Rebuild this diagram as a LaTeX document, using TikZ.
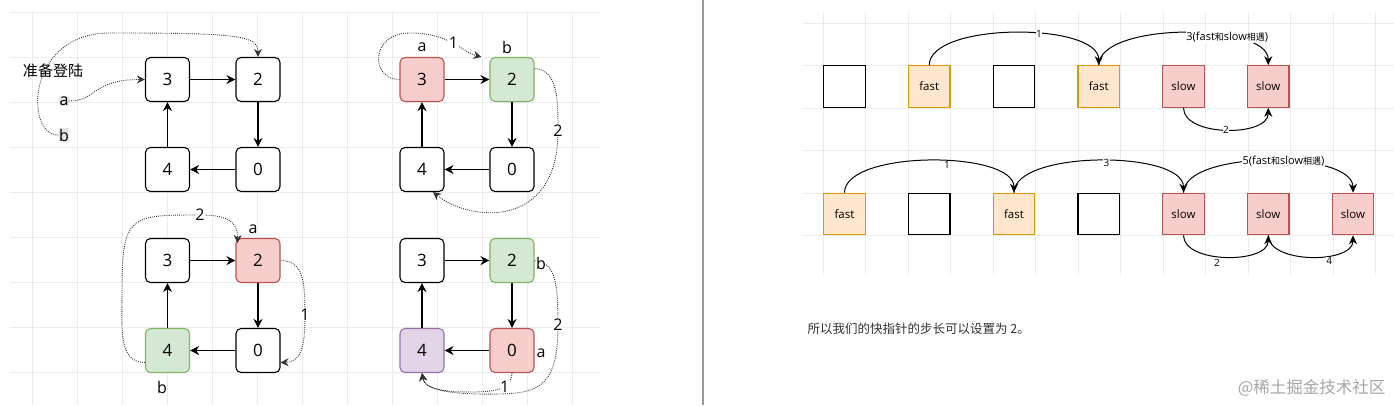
\documentclass[tikz,border=0pt]{standalone}
\usepackage{fontspec}
\setmainfont{Open Sans}
\newfontfamily\cjk{Noto Sans CJK SC}
\usetikzlibrary{arrows.meta}
\definecolor{redfill}{HTML}{F8CECC}
\definecolor{redline}{HTML}{B85450}
\definecolor{greenfill}{HTML}{D5E8D4}
\definecolor{greenline}{HTML}{82B366}
\definecolor{purplefill}{HTML}{E1D5E7}
\definecolor{purpleline}{HTML}{9673A6}
\definecolor{orangefill}{HTML}{FFE6CC}
\definecolor{orangeline}{HTML}{D79B00}
\definecolor{gridc}{HTML}{ECECEC}
\definecolor{textc}{HTML}{333333}
\newcommand{\cjksmall}[1]{{\cjk\fontsize{9}{9}\selectfont #1}}
\begin{document}
\begin{tikzpicture}[x=1pt,y=-1pt,
 nbox/.style={draw=black, line width=1.1pt, rounded corners=5pt, minimum size=44pt, inner sep=0pt, fill=white, font=\fontsize{17}{17}\selectfont},
 redbox/.style={nbox, draw=redline, fill=redfill},
 greenbox/.style={nbox, draw=greenline, fill=greenfill},
 purplebox/.style={nbox, draw=purpleline, fill=purplefill},
 sbox/.style={draw=black, line width=1.1pt, minimum size=41.5pt, inner sep=0pt, fill=white, font=\fontsize{11.5}{11.5}\selectfont},
 fastbox/.style={sbox, draw=orangeline, fill=orangefill},
 slowbox/.style={sbox, draw=redline, fill=redfill},
 lbl/.style={font=\fontsize{16}{16}\selectfont, inner sep=0.5pt, text=black},
 dlbl/.style={lbl, fill=white},
 sarrow/.style={-{Stealth[length=9pt,width=9pt]}, line width=1.1pt, black},
 arc/.style={-{Stealth[length=9pt,width=8pt]}, line width=1pt, black},
 dotarc/.style={-{Stealth[length=8pt,width=8pt]}, line width=0.9pt, black!80, dash pattern=on 0.9pt off 1.2pt},
 slbl/.style={font=\fontsize{10}{10}\selectfont, fill=white, inner sep=0.5pt, text=black},
 mlbl/.style={font=\fontsize{11}{11}\selectfont, fill=white, inner sep=0.5pt, text=black},
 gridline/.style={draw=gridc, line width=0.6pt}
]
\useasboundingbox (0,0) rectangle (1394,405);
\fill[white] (0,0) rectangle (1394,405);
% left grid
\foreach \y in {12,57,102,147,192,237,282,327,372} \draw[gridline] (10,\y) -- (600,\y);
\foreach \x in {32,77,122,167,212,257,302,347,392,437,482,527,572} \draw[gridline] (\x,12) -- (\x,405);
% right grid
\foreach \y in {23,65.5,108,150.5,193,235.5} \draw[gridline] (803,\y) -- (1394,\y);
\foreach \x in {823,865.5,908,950.5,993,1035.5,1078,1120.5,1163,1205.5,1248,1290.5,1333,1375.5} \draw[gridline] (\x,12) -- (\x,275);
% divider
\draw[black!40, line width=1.2pt] (703,0) -- (703,405);

% ---------- panel 1 ----------
\node[nbox] (p1b3) at (167.5,79.5) {3};
\node[nbox] (p1b2) at (258,79.5) {2};
\node[nbox] (p1b4) at (167.5,169.5) {4};
\node[nbox] (p1b0) at (258,169.5) {0};
\draw[sarrow] (p1b3) -- (p1b2);
\draw[sarrow] (p1b2) -- (p1b0);
\draw[sarrow] (p1b0) -- (p1b4);
\draw[sarrow] (p1b4) -- (p1b3);
\node[font=\cjk\fontsize{15}{15}\selectfont] (p1t) at (53,71) {准备登陆};
\node[lbl, fill=black!10] (p1a) at (64,101) {a};
\node[lbl, fill=black!10] (p1b) at (64,135) {b};
\draw[dotarc] (p1a.east) .. controls (97,101) and (92,79.5) .. (p1b3.west);
\draw[dotarc] (p1b.west) .. controls (25,136) and (25,33) .. (110,33) .. controls (235,33) and (258,35) .. (p1b2.north);

% ---------- panel 2 ----------
\node[redbox] (p2b3) at (422,79.5) {3};
\node[greenbox] (p2b2) at (512,79.5) {2};
\node[nbox] (p2b4) at (422,169.5) {4};
\node[nbox] (p2b0) at (512,169.5) {0};
\draw[sarrow] (p2b3) -- (p2b2);
\draw[sarrow] (p2b2) -- (p2b0);
\draw[sarrow] (p2b0) -- (p2b4);
\draw[sarrow] (p2b4) -- (p2b3);
\node[lbl] (p2a) at (422,47) {a};
\node[lbl] (p2b) at (507,47) {b};
\coordinate (p2e1) at ([xshift=-8pt]p2b2.north west);
\coordinate (p2s2) at ([yshift=11pt]p2b2.east);
\coordinate (p2e2) at ([xshift=11pt]p2b4.south);
\draw[dotarc] (p2b3.west) .. controls (370,79.5) and (370,33) .. (410,33) .. controls (450,33) and (462,52) .. (p2e1) node[pos=0.5, dlbl] {1};
\draw[dotarc] (p2s2) .. controls (558,70) and (558,100) .. (558,131) node[dlbl] {2} .. controls (558,230) and (470,222) .. (p2e2);

% ---------- panel 3 ----------
\node[nbox] (p3b3) at (167.5,260.5) {3};
\node[redbox] (p3b2) at (258,260.5) {2};
\node[greenbox] (p3b4) at (167.5,350.5) {4};
\node[nbox] (p3b0) at (258,350.5) {0};
\draw[sarrow] (p3b3) -- (p3b2);
\draw[sarrow] (p3b2) -- (p3b0);
\draw[sarrow] (p3b0) -- (p3b4);
\draw[sarrow] (p3b4) -- (p3b3);
\node[lbl] (p3a) at (253,229) {a};
\node[lbl] (p3b) at (162,387) {b};
\coordinate (p3s1) at ([yshift=-12pt]p3b4.west);
\coordinate (p3e1) at ([xshift=2pt,yshift=-5pt]p3b2.north west);
\coordinate (p3e2) at ([yshift=-12pt]p3b0.east);
\draw[dotarc] (p3s1) .. controls (118,362) and (122,330) .. (122,290) .. controls (122,215) and (130,215) .. (200,215) node[dlbl] {2} .. controls (228,215) and (238,222) .. (p3e1);
\draw[dotarc] (p3b2.east) .. controls (303,261) and (305,280) .. (305,315) node[dlbl] {1} .. controls (305,350) and (300,362) .. (p3e2);

% ---------- panel 4 ----------
\node[nbox] (p4b3) at (422,260.5) {3};
\node[greenbox] (p4b2) at (512,260.5) {2};
\node[purplebox] (p4b4) at (422,350.5) {4};
\node[redbox] (p4b0) at (512,350.5) {0};
\draw[sarrow] (p4b3) -- (p4b2);
\draw[sarrow] (p4b2) -- (p4b0);
\draw[sarrow] (p4b0) -- (p4b4);
\draw[sarrow] (p4b4) -- (p4b3);
\draw[dotarc] (p4b2.east) .. controls (556,262) and (558,285) .. (558,325) node[dlbl] {2} .. controls (558,385) and (540,393) .. (500,394) .. controls (450,395) and (425,390) .. (p4b4.south);
\draw[dotarc] (p4b0.south) .. controls (511,388) and (500,392) .. (470,392) node[pos=0.42, dlbl] {1} .. controls (440,392) and (424,388) .. (p4b4.south);
\node[lbl, fill=white] (p4b) at (541,263) {b};
\node[lbl] (p4a) at (541,353) {a};

% ---------- right, row 1 ----------
\node[sbox] (r1b1) at (844.5,86.5) {};
\node[fastbox] (r1b2) at (929.25,86.5) {fast};
\node[sbox] (r1b3) at (1014,86.5) {};
\node[fastbox] (r1b4) at (1098.75,86.5) {fast};
\node[slowbox] (r1b5) at (1183.5,86.5) {slow};
\node[slowbox] (r1b6) at (1268.25,86.5) {slow};
\draw[arc] (r1b2.north) .. controls (929.25,22) and (1098.75,22) .. (r1b4.north) node[pos=0.6, slbl] {1};
\draw[arc] (r1b4.north) .. controls (1098.75,22) and (1268.25,22) .. (r1b6.north) node[pos=0.68, mlbl] {3(fast\cjksmall{和}slow\cjksmall{相遇})};
\draw[arc] (r1b5.south) .. controls (1183.5,137) and (1268.25,137) .. (r1b6.south) node[pos=0.5, slbl] {2};

% ---------- right, row 2 ----------
\node[fastbox] (r2b1) at (844.5,214) {fast};
\node[sbox] (r2b2) at (929.25,214) {};
\node[fastbox] (r2b3) at (1014,214) {fast};
\node[sbox] (r2b4) at (1098.75,214) {};
\node[slowbox] (r2b5) at (1183.5,214) {slow};
\node[slowbox] (r2b6) at (1268.25,214) {slow};
\node[slowbox] (r2b7) at (1353,214) {slow};
\draw[arc] (r2b1.north) .. controls (844.5,150) and (1014,150) .. (r2b3.north) node[pos=0.57, slbl, yshift=-4pt] {1};
\draw[arc] (r2b3.north) .. controls (1014,150) and (1183.5,150) .. (r2b5.north) node[pos=0.53, slbl, yshift=-2pt] {3};
\draw[arc] (r2b5.north) .. controls (1183.5,150) and (1353,150) .. (r2b7.north) node[pos=0.56, mlbl] {5(fast\cjksmall{和}slow\cjksmall{相遇})};
\draw[arc] (r2b5.south) .. controls (1183.5,264) and (1268.25,264) .. (r2b6.south) node[pos=0.43, slbl, yshift=-6pt] {2};
\draw[arc] (r2b6.south) .. controls (1268.25,264) and (1353,264) .. (r2b7.south) node[pos=0.65, slbl, yshift=-6pt] {4};

% ---------- texts ----------
\node[anchor=west, text=textc, font=\cjk\fontsize{12.5}{12.5}\selectfont] (note) at (804,329) {所以我们的快指针的步长可以设置为 2。};
\node[anchor=east, text=black!35, font=\cjk\fontsize{16.5}{16.5}\selectfont] (wm) at (1389,388) {@稀土掘金技术社区};
\end{tikzpicture}
\end{document}
